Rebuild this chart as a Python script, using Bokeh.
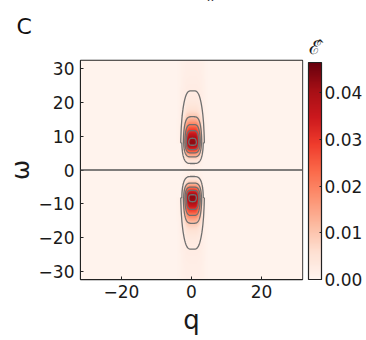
import numpy as np
from bokeh.plotting import figure
from bokeh.models import (LinearColorMapper, ColorBar, FixedTicker, PrintfTickFormatter,
                          Span, Label)
from bokeh.palettes import Reds256
from bokeh.embed import file_html
from bokeh.resources import INLINE

# ---- data ----
q_range = [-31.7, 31.7]
w_range = [-32.4, 32.4]
q_ticks = [-20, 0, 20]
w_ticks = [-30, -20, -10, 0, 10, 20, 30]
cbar_ticks = [0.0, 0.01, 0.02, 0.03, 0.04]
cbar_high = 0.0465
contour_levels = [0.002, 0.01, 0.02, 0.03, 0.04]
# two lobes of the field (centre q, centre omega, peak value)
lobe_q = [0.3, 0.3]
lobe_w = [8.1, -8.1]
lobe_peak = [0.042, 0.042]
lobe_q_width = [2.3, 2.3]
lobe_tail_q_width = [3.4, 3.4]
lobe_sigma_inner = [2.5, 2.5]   # towards omega = 0
lobe_sigma_outer = [4.2, 4.2]   # away from omega = 0
lobe_tail_frac = [0.1, 0.1]
lobe_tail_len = [20.0, 20.0]
background_level = 0.0006

# ---- field ----
nq, nw = 361, 361
q = np.linspace(q_range[0], q_range[1], nq)
w = np.linspace(w_range[0], w_range[1], nw)
Q, W = np.meshgrid(q, w)
Z = np.zeros_like(Q)
for q0, w0, A, a, at, si, so, B, L in zip(lobe_q, lobe_w, lobe_peak, lobe_q_width,
                                          lobe_tail_q_width, lobe_sigma_inner,
                                          lobe_sigma_outer, lobe_tail_frac, lobe_tail_len):
    d = (W - w0) * np.sign(w0)          # positive = away from omega=0
    dq = np.abs(Q - q0)
    g = np.exp(-(dq / a) ** 4)
    gt = np.exp(-(dq / at) ** 4)
    inner = np.exp(-d**2 / (2 * si**2)) * g
    dd = np.clip(d, 0, None)
    outer = (1 - B) * np.exp(-dd**2 / (2 * so**2)) * g + B * np.exp(-dd / L) * gt
    Z += A * np.where(d < 0, inner, outer)
Z_img = Z + background_level

font = "DejaVu Sans"
ink = "#1a1a1a"

p = figure(width=366, height=340, x_range=tuple(q_range), y_range=tuple(w_range),
           output_backend="svg", toolbar_location=None,
           min_border_left=80, min_border_top=59, min_border_bottom=61, min_border_right=64)
p.background_fill_color = "white"
p.border_fill_color = "white"
p.grid.visible = False
p.outline_line_color = "#222222"
p.outline_line_width = 1.3

mapper = LinearColorMapper(palette=list(reversed(Reds256)), low=0.0, high=cbar_high)
p.image(image=[Z_img], x=q_range[0], y=w_range[0], dw=q_range[1] - q_range[0],
        dh=w_range[1] - w_range[0], color_mapper=mapper)
p.contour(Q, W, Z, contour_levels, line_color="#6f6f6f", line_width=1.3)

p.add_layout(Span(location=0, dimension="width", line_color="#555555", line_width=1.3))

for ax in (p.xaxis[0], p.yaxis[0]):
    ax.major_label_text_font = font
    ax.major_label_text_font_size = "17px"
    ax.major_label_text_color = ink
    ax.axis_label_text_font = font
    ax.axis_label_text_font_style = "normal"
    ax.axis_label_text_color = ink
    ax.major_tick_in = 3
    ax.major_tick_out = 0
    ax.minor_tick_line_color = None
    ax.axis_line_color = "#222222"
    ax.major_tick_line_color = "#222222"
    ax.major_label_standoff = 6
p.xaxis[0].ticker = FixedTicker(ticks=q_ticks)
p.yaxis[0].ticker = FixedTicker(ticks=w_ticks)
p.xaxis[0].axis_label = "q"
p.yaxis[0].axis_label = "ω"
p.xaxis[0].axis_label_text_font_size = "26px"
p.yaxis[0].axis_label_text_font_size = "24px"
p.xaxis[0].axis_label_standoff = 4
p.yaxis[0].axis_label_standoff = 1
p.xaxis[0].major_label_standoff = 5
p.yaxis[0].major_label_orientation = "horizontal"

cb = ColorBar(color_mapper=mapper, ticker=FixedTicker(ticks=cbar_ticks),
              formatter=PrintfTickFormatter(format="%.2f"),
              width=13, height=217, margin=0, padding=0, location=(6, 0),
              label_standoff=3, major_label_text_font=font,
              major_label_text_font_size="17px", major_label_text_color=ink,
              major_tick_in=2, major_tick_out=0, major_tick_line_color="#222222",
              minor_tick_line_color=None,
              bar_line_color="#222222", bar_line_width=1.2,
              border_line_color=None, background_fill_color=None)
p.add_layout(cb, "right")

# texts above the frame (screen units measured from each panel's lower-left corner)
p.add_layout(Label(x=-64, y=34, x_units="screen", y_units="screen", text="C",
                   text_font=font, text_font_size="22px", text_color="#111111",
                   text_baseline="alphabetic"), "above")
p.add_layout(Label(x=234, y=-11, x_units="screen", y_units="screen", text="ℰ̂",
                   text_font="DejaVu Serif", text_font_size="19px", text_color=ink,
                   text_align="center", text_baseline="alphabetic"), "above")
p.add_layout(Label(x=130, y=16, x_units="screen", y_units="screen", text="x",
                   text_font=font, text_font_size="11px", text_color=ink,
                   text_align="center", text_baseline="alphabetic"), "above")

open("out.html", "w").write(file_html(p, INLINE))
